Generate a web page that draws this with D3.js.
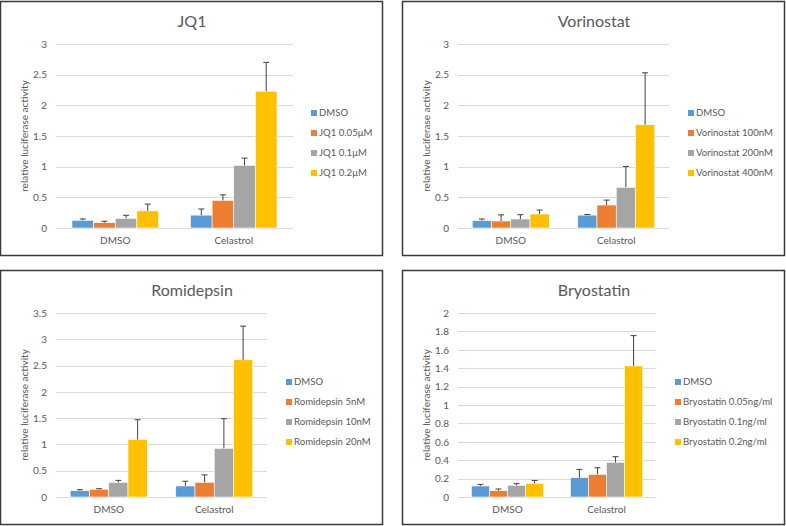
<!DOCTYPE html>
<html><head><meta charset="utf-8">
<script src="https://cdn.jsdelivr.net/npm/d3@7"></script>
<style>
html,body{margin:0;padding:0;background:#fff;}
svg{display:block;font-family:Lato,"Open Sans",sans-serif;}
</style></head>
<body><svg id="chart" width="786" height="526"></svg>
<script>
const categories = ["DMSO", "Celastrol"];
const colors = ["#5B9BD5", "#ED7D31", "#A5A5A5", "#FFC000"];

const jq1Title = "JQ1";
const jq1Series = ["DMSO", "JQ1 0.05μM", "JQ1 0.1μM", "JQ1 0.2μM"];
const jq1Values = [[0.125, 0.21], [0.087, 0.45], [0.157, 1.02], [0.28, 2.23]];
const jq1Errors = [[0.022, 0.10], [0.023, 0.09], [0.05, 0.12], [0.11, 0.47]];
const jq1Ticks = [0, 0.5, 1, 1.5, 2, 2.5, 3];

const vorTitle = "Vorinostat";
const vorSeries = ["DMSO", "Vorinostat 100nM", "Vorinostat 200nM", "Vorinostat 400nM"];
const vorValues = [[0.12, 0.21], [0.114, 0.375], [0.147, 0.663], [0.228, 1.685]];
const vorErrors = [[0.027, 0.01], [0.10, 0.08], [0.07, 0.34], [0.065, 0.845]];
const vorTicks = [0, 0.5, 1, 1.5, 2, 2.5, 3];

const romTitle = "Romidepsin";
const romSeries = ["DMSO", "Romidepsin 5nM", "Romidepsin 10nM", "Romidepsin 20nM"];
const romValues = [[0.12, 0.21], [0.146, 0.28], [0.28, 0.925], [1.095, 2.61]];
const romErrors = [[0.02, 0.09], [0.012, 0.14], [0.036, 0.565], [0.375, 0.64]];
const romTicks = [0, 0.5, 1, 1.5, 2, 2.5, 3, 3.5];

const bryTitle = "Bryostatin";
const brySeries = ["DMSO", "Bryostatin 0.05ng/ml", "Bryostatin 0.1ng/ml", "Bryostatin 0.2ng/ml"];
const bryValues = [[0.12, 0.21], [0.069, 0.246], [0.127, 0.376], [0.148, 1.425]];
const bryErrors = [[0.017, 0.09], [0.018, 0.072], [0.018, 0.062], [0.032, 0.329]];
const bryTicks = [0, 0.2, 0.4, 0.6, 0.8, 1, 1.2, 1.4, 1.6, 1.8, 2];

const yLabel = "relative luciferase activity";
const textColor = "#595959";

const svg = d3.select("#chart");

function panel(opts) {
  const {x0, y0, w, h, title, series, values, errors, ticks, plotL, plotR, legX} = opts;
  const g = svg.append("g").attr("transform", `translate(${x0},${y0})`);
  g.append("rect").attr("x", 0.5).attr("y", 0.5).attr("width", w).attr("height", h)
    .attr("fill", "#fff").attr("stroke", "#3a3a3a").attr("stroke-width", 1.5);

  const plotT = 43, plotB = 227;
  const y = d3.scaleLinear().domain([0, ticks[ticks.length - 1]]).range([plotB, plotT]);
  const x = d3.scaleBand().domain(categories).range([plotL, plotR]).paddingInner(0).paddingOuter(0);
  const groupW = x.bandwidth() * 0.73;
  const xs = d3.scaleBand().domain(d3.range(series.length)).range([0, groupW]);

  // gridlines
  g.append("g").selectAll("line").data(ticks).join("line")
    .attr("x1", plotL).attr("x2", plotR)
    .attr("y1", d => Math.round(y(d)) + 0.5).attr("y2", d => Math.round(y(d)) + 0.5)
    .attr("stroke", "#D9D9D9").attr("stroke-width", 1);

  // y axis tick labels
  const yAxis = d3.axisLeft(y).tickValues(ticks).tickSize(0).tickPadding(9)
    .tickFormat(d => String(+d.toFixed(2)));
  const ya = g.append("g").attr("transform", `translate(${plotL},0)`).call(yAxis);
  ya.select(".domain").remove();
  ya.selectAll("text").attr("fill", textColor).style("font-size", "10px")
    .style("font-family", "Lato, 'Open Sans', sans-serif");

  // x axis labels
  const xAxis = d3.axisBottom(x).tickSize(0).tickPadding(9);
  const xa = g.append("g").attr("transform", `translate(0,${plotB})`).call(xAxis);
  xa.select(".domain").remove();
  xa.selectAll("text").attr("fill", textColor).style("font-size", "10px")
    .style("font-family", "Lato, 'Open Sans', sans-serif");

  // bars
  series.forEach((s, si) => {
    categories.forEach((c, ci) => {
      const v = values[si][ci];
      const bx = x(c) + (x.bandwidth() - groupW) / 2 + xs(si);
      g.append("rect").attr("x", bx).attr("y", y(v))
        .attr("width", xs.bandwidth()).attr("height", y(0) - y(v))
        .attr("fill", colors[si]).attr("stroke", "#fff").attr("stroke-width", 0.6);
      const e = errors[si][ci];
      const cx = bx + xs.bandwidth() / 2;
      g.append("line").attr("x1", cx).attr("x2", cx).attr("y1", y(v)).attr("y2", y(v + e))
        .attr("stroke", "#404040").attr("stroke-width", 1);
      g.append("line").attr("x1", cx - 3).attr("x2", cx + 3).attr("y1", y(v + e)).attr("y2", y(v + e))
        .attr("stroke", "#404040").attr("stroke-width", 1);
    });
  });

  // title
  g.append("text").attr("x", w / 2 + 1).attr("y", 20).attr("dy", "0.35em")
    .attr("text-anchor", "middle").attr("fill", textColor).style("font-size", "16px").text(title);

  // y label
  g.append("text").attr("transform", `translate(24,${(plotT + plotB) / 2}) rotate(-90)`)
    .attr("dy", "0.35em").attr("text-anchor", "middle").attr("fill", textColor)
    .style("font-size", "10px").text(yLabel);

  // legend
  series.forEach((s, si) => {
    const ly = 112 + si * 20;
    g.append("rect").attr("x", legX).attr("y", ly - 3).attr("width", 6).attr("height", 6).attr("fill", colors[si]);
    g.append("text").attr("x", legX + 8).attr("y", ly).attr("dy", "0.35em")
      .attr("fill", textColor).style("font-size", "9.6px").text(s);
  });
}

panel({x0: 0, y0: 1, w: 382, h: 254, title: jq1Title, series: jq1Series, values: jq1Values, errors: jq1Errors, ticks: jq1Ticks, plotL: 56, plotR: 293, legX: 311});
panel({x0: 402, y0: 1, w: 382, h: 254, title: vorTitle, series: vorSeries, values: vorValues, errors: vorErrors, ticks: vorTicks, plotL: 56, plotR: 267, legX: 286});
panel({x0: 0, y0: 270, w: 382, h: 254, title: romTitle, series: romSeries, values: romValues, errors: romErrors, ticks: romTicks, plotL: 56, plotR: 267, legX: 286});
panel({x0: 402, y0: 270, w: 382, h: 254, title: bryTitle, series: brySeries, values: bryValues, errors: bryErrors, ticks: bryTicks, plotL: 56, plotR: 254, legX: 273});
</script></body></html>
